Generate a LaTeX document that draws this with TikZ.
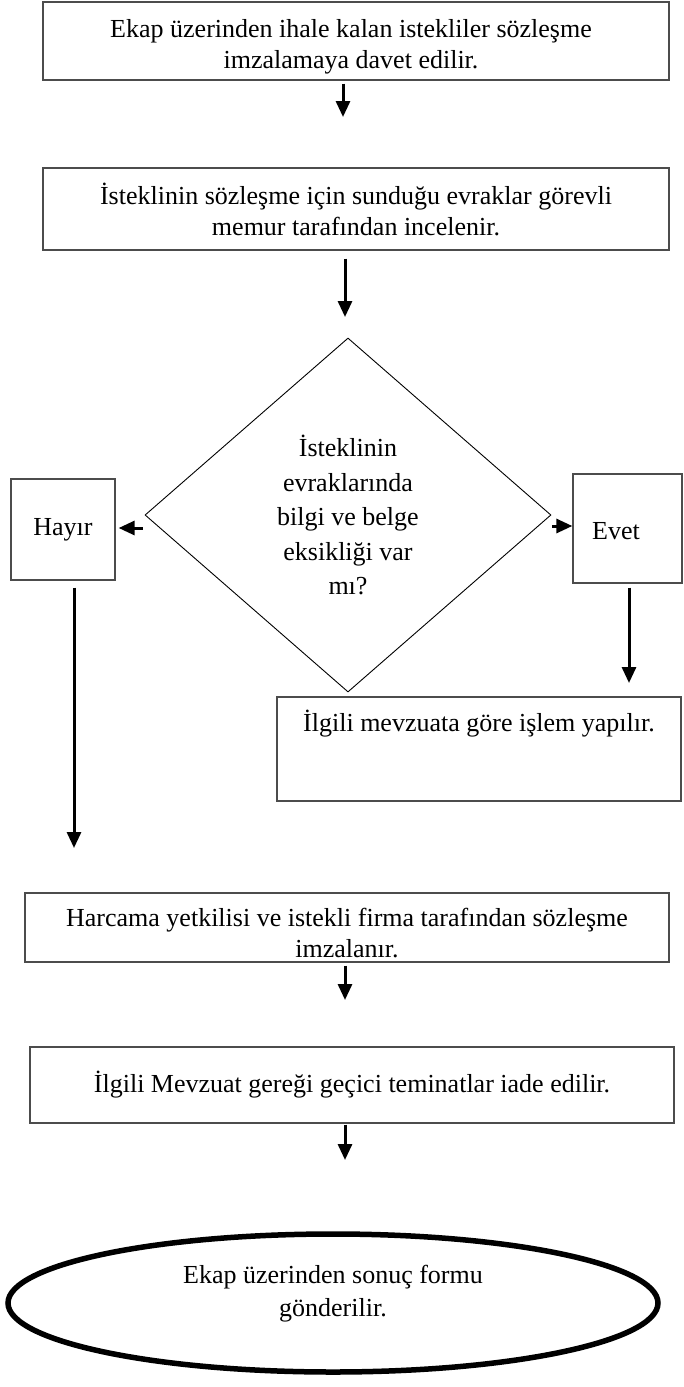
\documentclass[tikz,border=0pt]{standalone}
\usepackage{fontspec}
\setmainfont{Liberation Serif}
\usetikzlibrary{arrows.meta,shapes.geometric}
\begin{document}
\begin{tikzpicture}[x=1pt,y=-1pt,
  box/.style={draw=black!70, line width=1.3pt, inner sep=0pt, align=center, font=\fontsize{26}{31}\selectfont},
  txt/.style={inner sep=0pt, align=center, font=\fontsize{26}{31}\selectfont},
  arr/.style={line width=3pt, -{Triangle[length=16pt,width=14pt]}},
  dia/.style={diamond, draw=black, line width=0.9pt, inner sep=0pt, align=center, font=\fontsize{26}{34.5}\selectfont},
  term/.style={ellipse, draw=black, line width=5.5pt, inner sep=0pt}]
\useasboundingbox (0,0) rectangle (683,1387);
\fill[white] (0,0) rectangle (683,1387);

\node[box, minimum width=626pt, minimum height=78pt] (b1) at (356,41) {};
\node[txt] (b1t) at (351,47) {Ekap üzerinden ihale kalan istekliler sözleşme\\imzalamaya davet edilir.};
\node[box, minimum width=626pt, minimum height=82pt] (b2) at (356,209)
  {İsteklinin sözleşme için sunduğu evraklar görevli\\memur tarafından incelenir.};
\node[dia, minimum width=406pt, minimum height=354pt] (d) at (348,515)
  {İsteklinin\\evraklarında\\bilgi ve belge\\eksikliği var\\mı?};
\node[box, minimum width=104pt, minimum height=101pt] (hy) at (63,529.5) {Hayır};
\node[box, minimum width=109pt, minimum height=109pt] (ev) at (627.5,528.5) {};
\node[txt] (evt) at (616,531) {Evet};
\node[box, minimum width=404pt, minimum height=104pt] (ig) at (479,749) {};
\node[txt] (igt) at (479,724) {İlgili mevzuata göre işlem yapılır.};
\node[box, minimum width=644pt, minimum height=69pt] (hc) at (347,927.5) {};
\node[txt] (hct) at (347,933) {Harcama yetkilisi ve istekli firma tarafından sözleşme\\imzalanır.};
\node[box, minimum width=644pt, minimum height=76pt] (im) at (352,1085)
  {İlgili Mevzuat gereği geçici teminatlar iade edilir.};
\node[term, minimum width=650pt, minimum height=138pt] (el) at (333,1303) {};
\node[txt, font=\fontsize{26}{33}\selectfont] (elt) at (333,1294) {Ekap üzerinden sonuç formu\\gönderilir.};

\coordinate (e1) at (343,117);
\coordinate (e2) at (345,317);
\coordinate (e5) at (74,848);
\coordinate (e6) at (629,683);
\coordinate (e7) at (345,1000);
\coordinate (e8) at (345,1160);

\draw[arr, shorten <=3pt] (b1.south -| e1) -- (e1);
\draw[arr, shorten <=8pt] (b2.south -| e2) -- (e2);
\draw[arr, shorten >=3pt] ([shift={(-2,13)}]d.west) coordinate (t3) -- (t3 -| hy.east);
\draw[arr] ([shift={(1,11)}]d.east) coordinate (t4) -- (t4 -| ev.west);
\draw[arr, shorten <=7pt] (hy.south -| e5) -- (e5);
\draw[arr, shorten <=4pt] (ev.south -| e6) -- (e6);
\draw[arr, shorten <=3pt] (hc.south -| e7) -- (e7);
\draw[arr, shorten <=1pt] (im.south -| e8) -- (e8);
\end{tikzpicture}
\end{document}
